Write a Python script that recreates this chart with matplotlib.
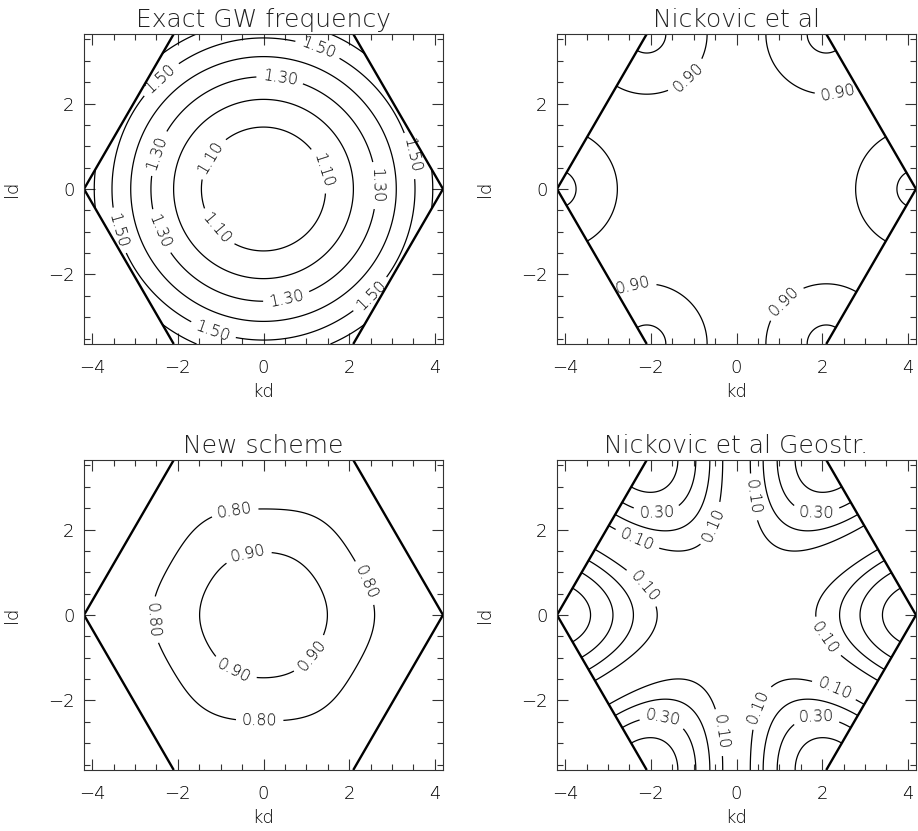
import numpy as np
import matplotlib

matplotlib.use("Agg")
import matplotlib.pyplot as plt
from matplotlib.patches import Polygon
from matplotlib.ticker import MultipleLocator

plt.rcParams["font.family"] = ["DejaVu Sans"]
plt.rcParams["font.weight"] = "light"
plt.rcParams["axes.titleweight"] = "light"
plt.rcParams["axes.labelweight"] = "light"
plt.rcParams["axes.unicode_minus"] = True

# Hexagonal grid with spacing d = 1: the first Brillouin zone is a hexagon
# with corners at kd = +-4pi/3 and flat edges at ld = +-2pi/sqrt(3).
K_EDGE = 4 * np.pi / 3
L_EDGE = 2 * np.pi / np.sqrt(3)

# (lambda/d)^2 for the continuous gravity-wave frequency
DEFORMATION_SQ = 0.10

# Nickovic et al: frequency ratio dips around the zone corners
NICK_DIP = 0.216
NICK_WIDTH = 1.605
# new scheme: smooth radial drop-off with weak six-fold modulation further out
NEW_DROP = 0.2685
NEW_WIDTH_SQ = 4.7
NEW_SIXFOLD = 0.022
NEW_SIXFOLD_RADIUS = 2.55
# spurious frequency of the geostrophic mode
GEO_PEAK = 0.47
GEO_POWER = 1.1

titles = ["Exact GW frequency", "Nickovic et al", "New scheme", "Nickovic et al Geostr."]

exact_levels = [1.10, 1.20, 1.30, 1.40, 1.50, 1.60]
exact_labelled = [1.10, 1.30, 1.50]
nickovic_levels = [0.80, 0.90]
nickovic_labelled = [0.90]
new_levels = [0.80, 0.90]
new_labelled = [0.80, 0.90]
geostr_levels = [0.10, 0.20, 0.30, 0.40]
geostr_labelled = [0.10, 0.30]

# grid in (kd, ld)
kd = np.linspace(-K_EDGE, K_EDGE, 601)
ld = np.linspace(-L_EDGE, L_EDGE, 521)
KD, LD = np.meshgrid(kd, ld)
R = np.hypot(KD, LD)
PHI = np.arctan2(LD, KD)

corner_angles = np.deg2rad(np.arange(0, 360, 60))
corners = np.column_stack([K_EDGE * np.cos(corner_angles), K_EDGE * np.sin(corner_angles)])

exact = np.sqrt(1 + DEFORMATION_SQ * R**2)

dist_corner = np.min(
    [np.hypot(KD - cx, LD - cy) for cx, cy in corners], axis=0
)
nickovic = 1 - NICK_DIP * np.exp(-(dist_corner / NICK_WIDTH) ** 2)

sixfold = NEW_SIXFOLD * (R / NEW_SIXFOLD_RADIUS) ** 2 * np.cos(6 * PHI)
r_eff = R * (1 - sixfold)
new_scheme = 1 - NEW_DROP * (1 - np.exp(-r_eff**2 / NEW_WIDTH_SQ))

th1 = KD
th2 = 0.5 * KD + np.sqrt(3) / 2 * LD
th3 = -0.5 * KD + np.sqrt(3) / 2 * LD
chiral = np.abs(np.sin(th1) - np.sin(th2) + np.sin(th3)) / (3 * np.sqrt(3) / 2)
geostr = GEO_PEAK * chiral**GEO_POWER

# where the contour labels sit (kd, ld)
exact_spots = [
    (1.26, 3.26), (-2.42, 2.60), (0.40, 2.70), (-2.50, 0.85), (-1.29, 0.77),
    (1.34, 0.43), (-1.10, -0.93), (2.54, 0.08), (-2.42, -1.00), (0.53, -2.52),
    (3.40, 0.77), (-3.47, -1.00), (-1.18, -3.33), (2.43, -2.40),
]
nickovic_spots = [(-1.13, 2.60), (2.36, 2.33), (-2.40, -2.33), (1.08, -2.60)]
new_spots = [
    (-0.67, 2.44), (2.35, 0.74), (-2.65, -0.12), (-0.09, -2.52),
    (-0.36, 1.43), (-0.71, -1.36), (1.15, -0.97),
]
geostr_spots = [
    (-1.86, 2.44), (-2.33, 1.74), (-0.58, 2.13), (0.31, 2.75), (1.86, 2.44),
    (-2.17, 0.66), (2.01, -0.58), (2.25, -1.82), (1.86, -2.44), (0.47, -2.13),
    (-0.39, -2.75), (-1.71, -2.37),
]

W, H = 918, 831
fig = plt.figure(figsize=(W / 100, H / 100), dpi=100)

panel_w, panel_h = 359, 310
lefts = [84, 557]
tops = [34, 460]


def draw_panel(ax, field, levels, labelled, spots, title):
    hexagon = Polygon(corners, closed=True, transform=ax.transData)
    plain = [lev for lev in levels if lev not in labelled]
    if plain:
        cs_plain = ax.contour(KD, LD, field, levels=plain, colors="black", linewidths=0.9)
        cs_plain.set_clip_path(hexagon)
    cs = ax.contour(KD, LD, field, levels=labelled, colors="black", linewidths=0.9)
    cs.clabel(inline=True, fmt="%.2f", fontsize=11.5, manual=spots, inline_spacing=6)
    cs.set_clip_path(hexagon)

    # slanted zone edges; the flat ones coincide with the frame
    left_side = corners[[2, 3, 4]]
    right_side = corners[[1, 0, 5]]
    for side in (left_side, right_side):
        ax.plot(side[:, 0], side[:, 1], color="black", linewidth=1.7, solid_capstyle="butt")

    ax.set_xlim(-K_EDGE, K_EDGE)
    ax.set_ylim(-L_EDGE, L_EDGE)
    ax.xaxis.set_major_locator(MultipleLocator(2))
    ax.xaxis.set_minor_locator(MultipleLocator(0.5))
    ax.yaxis.set_major_locator(MultipleLocator(2))
    ax.yaxis.set_minor_locator(MultipleLocator(0.5))
    ax.tick_params(which="both", direction="in", top=True, right=True, width=0.8, color="#333333")
    ax.tick_params(which="major", length=8, labelsize=13)
    ax.tick_params(which="minor", length=4)
    ax.tick_params(axis="x", pad=11)
    ax.tick_params(axis="y", pad=7)
    for spine in ax.spines.values():
        spine.set_linewidth(0.8)
        spine.set_color("#333333")

    ax.set_xlabel("kd", fontsize=13)
    ax.set_ylabel("ld", fontsize=13)
    ax.xaxis.set_label_coords(0.5, -0.125)
    ax.yaxis.set_label_coords(-0.175, 0.5)
    ax.set_title(title, fontsize=18, pad=5, color="#222222")


panels = [
    (exact, exact_levels, exact_labelled, exact_spots),
    (nickovic, nickovic_levels, nickovic_labelled, nickovic_spots),
    (new_scheme, new_levels, new_labelled, new_spots),
    (geostr, geostr_levels, geostr_labelled, geostr_spots),
]

for idx, (field, levels, labelled, spots) in enumerate(panels):
    row, col = divmod(idx, 2)
    rect = [
        lefts[col] / W,
        1 - (tops[row] + panel_h) / H,
        panel_w / W,
        panel_h / H,
    ]
    ax = fig.add_axes(rect)
    draw_panel(ax, field, levels, labelled, spots, titles[idx])

fig.savefig("out.png", dpi=100)
